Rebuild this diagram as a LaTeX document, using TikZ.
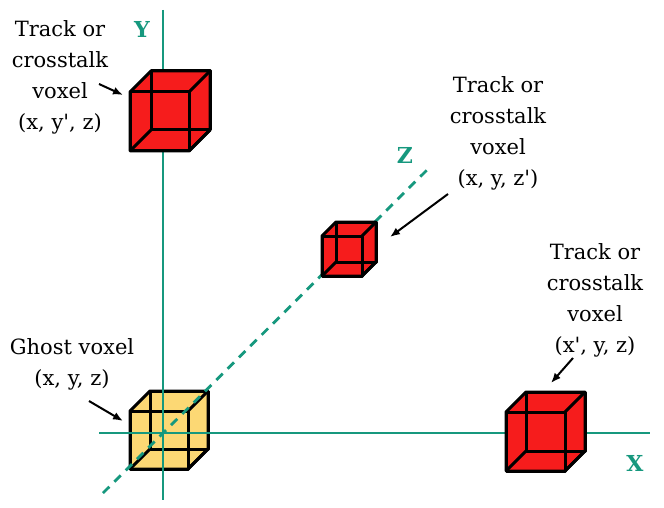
\documentclass[tikz,border=0pt]{standalone}
\usepackage{fontspec}
\setmainfont{DejaVu Serif}
\usetikzlibrary{arrows.meta}
\definecolor{axisteal}{RGB}{22,152,126}
\definecolor{trackred}{RGB}{246,28,28}
\definecolor{ghostyellow}{RGB}{252,216,116}

\begin{document}
\begin{tikzpicture}[x=1pt,y=-1pt,
  axis/.style={draw=axisteal,line width=2.8pt},
  voxel/.style={draw=black,line width=3pt,line join=round},
  lbl/.style={align=center,font=\fontsize{21}{31}\selectfont,inner sep=0pt},
  axlbl/.style={text=axisteal,font=\fontsize{22}{22}\selectfont\bfseries,inner sep=0pt},
  arr/.style={-{Latex[length=10pt,width=8pt]},line width=2pt}]
  \useasboundingbox (0,0) rectangle (664,508);
  % front top-left corner, size, depth, fill
  \def\voxel#1#2#3#4#5{
    \filldraw[voxel,fill=#5] (#1,#2) -- ++(#4,-#4) -- ++(#3,0) -- ++(0,#3) -- ++(-#4,#4) -- ++(-#3,0) -- cycle;
    \draw[voxel] (#1,#2) rectangle ++(#3,#3);
    \draw[voxel] (#1+#4,#2-#4) rectangle ++(#3,#3);
    \draw[voxel] (#1+#3,#2) -- ++(#4,-#4);
    \draw[voxel] (#1,#2+#3) -- ++(#4,-#4);
    \draw[voxel] (#1+#3,#2+#3) -- ++(#4,-#4);
  }
  \def\q{\textquotesingle}

  \voxel{130}{411}{58}{20}{ghostyellow}

  % axes
  \draw[axis] (163,10) -- (163,500);
  \draw[axis] (99,433) -- (650,433);
  \draw[axis,dash pattern=on 9pt off 7pt] (103,493) -- (430,167);
  \node[axlbl] (ylbl) at (142,29) {Y};
  \node[axlbl] (zlbl) at (405,155) {Z};
  \node[axlbl] (xlbl) at (635,463) {X};

  \voxel{130}{92}{59}{21}{trackred}
  \voxel{322}{236}{40}{14}{trackred}
  \voxel{506}{412}{59}{20}{trackred}

  % labels
  \node[lbl] (lbly) at (60,77) {Track or\\crosstalk\\voxel\\(x, y\q, z)};
  \node[lbl] (lblz) at (498,133) {Track or\\crosstalk\\voxel\\(x, y, z\q)};
  \node[lbl] (lblx) at (595,300) {Track or\\crosstalk\\voxel\\(x\q, y, z)};
  \node[lbl] (lblg) at (72,364) {Ghost voxel\\(x, y, z)};

  \coordinate (fy) at (99,84);   \coordinate (ty) at (123,95);
  \coordinate (fz) at (448,194); \coordinate (tz) at (390,237);
  \coordinate (fx) at (573,358); \coordinate (tx) at (551,383);
  \coordinate (fg) at (89,401);  \coordinate (tg) at (123,421);
  \foreach \a in {y,z,x,g}
    \draw[arr] (f\a) -- (t\a);
\end{tikzpicture}
\end{document}
